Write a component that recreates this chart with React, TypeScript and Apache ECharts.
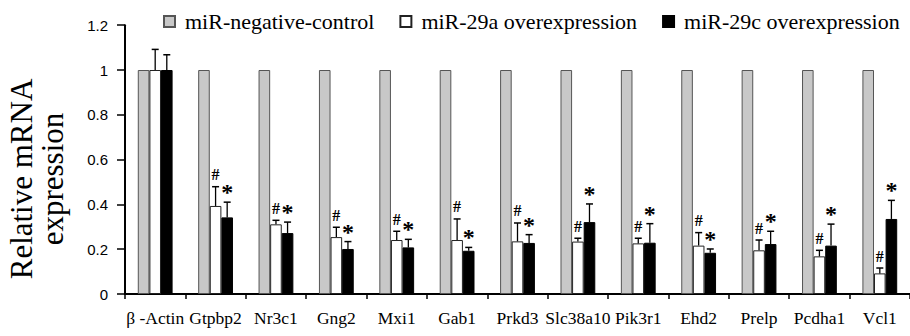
import React, { useEffect, useRef } from "react";
import * as echarts from "echarts";

const categories = ["β -Actin", "Gtpbp2", "Nr3c1", "Gng2", "Mxi1", "Gab1", "Prkd3", "Slc38a10", "Pik3r1", "Ehd2", "Prelp", "Pcdha1", "Vcl1"];
const seriesNames = ["miR-negative-control", "miR-29a overexpression", "miR-29c overexpression"];
const yAxisTitle = "Relative mRNA\nexpression";
const controlValues = [1, 1, 1, 1, 1, 1, 1, 1, 1, 1, 1, 1, 1];
const mir29aValues = [1, 0.393, 0.311, 0.254, 0.241, 0.241, 0.235, 0.234, 0.226, 0.216, 0.195, 0.168, 0.092];
const mir29aErrors = [0.092, 0.086, 0.018, 0.044, 0.039, 0.094, 0.082, 0.015, 0.023, 0.058, 0.046, 0.027, 0.024];
const mir29cValues = [1, 0.342, 0.272, 0.201, 0.208, 0.193, 0.228, 0.321, 0.229, 0.184, 0.223, 0.216, 0.335];
const mir29cErrors = [0.068, 0.068, 0.049, 0.033, 0.036, 0.015, 0.037, 0.081, 0.085, 0.017, 0.057, 0.096, 0.083];
const mir29aMarks = ["", "#", "#", "#", "#", "#", "#", "#", "#", "#", "#", "#", "#"];
const mir29cMarks = ["", "*", "*", "*", "*", "*", "*", "*", "*", "*", "*", "*", "*"];
const yTicks = { min: 0, max: 1.2, interval: 0.2 };

const SERIF = "Liberation Serif";
const SANS = "Liberation Sans";
const BAR_W = 11.6;

function errorSeries(values: number[], errors: number[], marks: string[], offset: number, markStyle: any) {
  return {
    type: "custom",
    z: 10,
    clip: false,
    silent: true,
    data: values.map((v, i) => [i, v, v + errors[i], marks[i]]),
    renderItem: (params: any, api: any) => {
      const idx = api.value(0);
      const x = api.coord([idx, 0])[0] + offset;
      const yBar = api.coord([idx, api.value(1)])[1];
      const yTop = api.coord([idx, api.value(2)])[1];
      const mark = marks[params.dataIndex];
      const children: any[] = [
        { type: "line", shape: { x1: x, y1: yBar, x2: x, y2: yTop }, style: { stroke: "#000", lineWidth: 1.3 } },
        { type: "line", shape: { x1: x - 3.5, y1: yTop, x2: x + 3.5, y2: yTop }, style: { stroke: "#000", lineWidth: 1.5 } },
      ];
      if (mark) {
        children.push({
          type: "text",
          style: {
            text: mark,
            x: x,
            y: yTop + markStyle.dy,
            align: "center",
            verticalAlign: "middle",
            fontSize: markStyle.fontSize,
            fontWeight: "bold",
            fontFamily: markStyle.fontFamily,
            fill: "#000",
          },
        });
      }
      return { type: "group", children };
    },
  };
}

export default function App() {
  const ref = useRef<HTMLDivElement>(null);
  useEffect(() => {
    if (!ref.current) return;
    const chart = echarts.init(ref.current, null, { renderer: "svg" });
    chart.setOption({
      animation: false,
      backgroundColor: "#fff",
      legend: {
        data: seriesNames,
        left: 163,
        top: 10.5,
        padding: 0,
        itemWidth: 11,
        itemHeight: 11,
        itemGap: 25,
        icon: "rect",
        textStyle: { fontFamily: SERIF, fontSize: 22, color: "#000", padding: [0, 0, 0, 5] },
      },
      graphic: [
        {
          type: "text",
          x: 37,
          y: 179,
          rotation: Math.PI / 2,
          style: {
            text: yAxisTitle,
            align: "center",
            verticalAlign: "middle",
            fontFamily: SERIF,
            fontSize: 31,
            lineHeight: 31,
            fill: "#000",
          },
        },
      ],
      grid: { left: 125, right: -9.5, top: 25.2, bottom: 42, containLabel: false },
      xAxis: {
        type: "category",
        data: categories,
        axisLine: { lineStyle: { color: "#000", width: 2 } },
        axisTick: { show: true, length: 5, lineStyle: { color: "#000", width: 1.5 } },
        axisLabel: { interval: 0, fontFamily: SERIF, fontSize: 17.5, color: "#000", margin: 15 },
        splitLine: { show: false },
      },
      yAxis: {
        type: "value",
        min: yTicks.min,
        max: yTicks.max,
        interval: yTicks.interval,
        axisLine: { show: true, lineStyle: { color: "#000", width: 2 } },
        axisTick: { show: true, length: 8, lineStyle: { color: "#000", width: 1.5 } },
        axisLabel: { fontFamily: SANS, fontSize: 15, color: "#000", margin: 17 },
        splitLine: { show: false },
      },
      series: [
        {
          name: seriesNames[0],
          type: "bar",
          data: controlValues,
          barWidth: BAR_W,
          barGap: "0%",
          itemStyle: { color: "#c8c8c8", borderColor: "#555", borderWidth: 1 },
        },
        {
          name: seriesNames[1],
          type: "bar",
          data: mir29aValues,
          barWidth: BAR_W,
          barGap: "0%",
          itemStyle: { color: "#ffffff", borderColor: "#222", borderWidth: 1 },
        },
        {
          name: seriesNames[2],
          type: "bar",
          data: mir29cValues,
          barWidth: BAR_W,
          barGap: "0%",
          itemStyle: { color: "#000000", borderColor: "#000", borderWidth: 1 },
        },
        errorSeries(mir29aValues, mir29aErrors, mir29aMarks, 0, { dy: -12, fontSize: 16, fontFamily: SERIF }),
        errorSeries(mir29cValues, mir29cErrors, mir29cMarks, BAR_W, { dy: -10, fontSize: 24, fontFamily: SERIF }),
      ],
    });
    return () => chart.dispose();
  }, []);
  return <div ref={ref} style={{ position: "absolute", left: 0, top: 0, width: 910, height: 336 }} />;
}
